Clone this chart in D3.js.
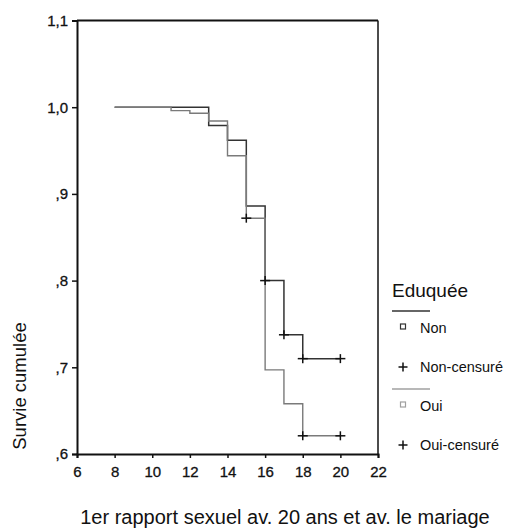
<!DOCTYPE html>
<html>
<head>
<meta charset="utf-8">
<script src="https://cdn.jsdelivr.net/npm/d3@7"></script>
<style>
	body { margin: 0; background: #fff; }
	svg text { font-family: "Liberation Sans", Arial, sans-serif; fill: #111; }
</style>
</head>
<body>
<div id="chart"></div>
<script>
// Kaplan-Meier steps
var nonTimes = [8, 13, 14, 15, 16, 17, 18, 20];
var nonSurv = [1.0, 0.979, 0.962, 0.886, 0.8, 0.7375, 0.71, 0.71];
var nonCensored = [16, 17, 18, 20];

var ouiTimes = [8, 11, 12, 13, 14, 15, 16, 17, 18, 20];
var ouiSurv = [1.0, 0.996, 0.993, 0.984, 0.944, 0.872, 0.697, 0.658, 0.621, 0.621];
var ouiCensored = [15, 18, 20];

var xTicks = [6, 8, 10, 12, 14, 16, 18, 20, 22];
var yTicks = [0.6, 0.7, 0.8, 0.9, 1.0, 1.1];
var yTickLabels = [",6", ",7", ",8", ",9", "1,0", "1,1"];

var legendTitle = "Eduquée";
var legendLabels = ["Non", "Non-censuré", "Oui", "Oui-censuré"];
var xTitle = "1er rapport sexuel av. 20 ans et av. le mariage";
var yTitle = "Survie cumulée";

var W = 510, H = 529;
var plot = { l: 77, t: 20.5, r: 378, b: 454 };

var svg = d3.select("#chart").append("svg")
	.attr("width", W)
	.attr("height", H);

var x = d3.scaleLinear().domain([6, 22]).range([plot.l, plot.r]);
var y = d3.scaleLinear().domain([0.6, 1.1]).range([plot.b, plot.t]);

// frame (top + right)
svg.append("line")
	.attr("x1", plot.l).attr("x2", plot.r)
	.attr("y1", plot.t).attr("y2", plot.t)
	.attr("stroke", "#111").attr("stroke-width", 2);

svg.append("line")
	.attr("x1", plot.r).attr("x2", plot.r)
	.attr("y1", plot.t).attr("y2", plot.b)
	.attr("stroke", "#111").attr("stroke-width", 1.5);

// axes
var yAxis = svg.append("g")
	.attr("transform", "translate(" + plot.l + ",0)")
	.call(d3.axisLeft(y).tickValues(yTicks).tickSize(5).tickPadding(4)
		.tickFormat(function(d, i) { return yTickLabels[i]; }));

var xAxis = svg.append("g")
	.attr("transform", "translate(0," + plot.b + ")")
	.call(d3.axisBottom(x).tickValues(xTicks).tickSize(4).tickPadding(8)
		.tickFormat(d3.format("d")));

[yAxis, xAxis].forEach(function(a) {
	a.select(".domain").attr("stroke", "#111").attr("stroke-width", 2);
	a.selectAll(".tick line").attr("stroke", "#111").attr("stroke-width", 1.5);
	a.selectAll(".tick text")
		.attr("font-size", 15)
		.attr("font-family", "'Liberation Sans', Arial, sans-serif")
		.attr("fill", "#111")
		.attr("stroke", "#111")
		.attr("stroke-width", 0.3);
});

// step curves
function stepPoints(times, surv) {
	return times.map(function(t, i) { return [t, surv[i]]; });
}

function survAt(times, surv, t) {
	var i = d3.bisectRight(times, t) - 1;
	return surv[Math.max(i, 0)];
}

var line = d3.line()
	.x(function(d) { return x(d[0]); })
	.y(function(d) { return y(d[1]); })
	.curve(d3.curveStepAfter);

var series = [
	{ name: "Non", times: nonTimes, surv: nonSurv, censored: nonCensored, color: "#333", width: 1.5 },
	{ name: "Oui", times: ouiTimes, surv: ouiSurv, censored: ouiCensored, color: "#7a7a7a", width: 1.4 }
];

series.forEach(function(s) {
	svg.append("path")
		.datum(stepPoints(s.times, s.surv))
		.attr("d", line)
		.attr("fill", "none")
		.attr("stroke", s.color)
		.attr("stroke-width", s.width);
});

// censor marks
function plus(g, cx, cy, hw, hh) {
	g.append("line").attr("x1", cx - hw).attr("x2", cx + hw).attr("y1", cy).attr("y2", cy);
	g.append("line").attr("x1", cx).attr("x2", cx).attr("y1", cy - hh).attr("y2", cy + hh);
}

var marks = svg.append("g").attr("stroke", "#111").attr("stroke-width", 1.5);

series.forEach(function(s) {
	s.censored.forEach(function(t) {
		plus(marks, x(t), y(survAt(s.times, s.surv, t)), 5, 4.5);
	});
});

// axis titles
svg.append("text")
	.attr("transform", "translate(26," + 386 + ") rotate(-90)")
	.attr("text-anchor", "middle")
	.attr("font-size", 18.5)
	.text(yTitle);

svg.append("text")
	.attr("x", 285)
	.attr("y", 524)
	.attr("text-anchor", "middle")
	.attr("font-size", 20)
	.text(xTitle);

// legend
var lg = svg.append("g").attr("transform", "translate(392,0)");

lg.append("text")
	.attr("x", 0).attr("y", 297)
	.attr("font-size", 19)
	.text(legendTitle);

var rows = [
	{ label: legendLabels[0], y: 333, kind: "square", color: "#333", line: 311 },
	{ label: legendLabels[1], y: 372, kind: "plus" },
	{ label: legendLabels[2], y: 411, kind: "square", color: "#a0a0a0", line: 389 },
	{ label: legendLabels[3], y: 450, kind: "plus" }
];

rows.forEach(function(r) {
	if (r.line) {
		lg.append("line")
			.attr("x1", 0).attr("x2", 38)
			.attr("y1", r.line).attr("y2", r.line)
			.attr("stroke", r.color).attr("stroke-width", 1.5);
	}

	if (r.kind == "square") {
		lg.append("rect")
			.attr("x", 8.5).attr("y", r.y - 9)
			.attr("width", 5).attr("height", 5)
			.attr("fill", "none")
			.attr("stroke", r.color).attr("stroke-width", 1.2);
	} else {
		var g = lg.append("g").attr("stroke", "#111").attr("stroke-width", 1.5);
		plus(g, 11, r.y - 5, 4.5, 4.5);
	}

	lg.append("text")
		.attr("x", 28).attr("y", r.y)
		.attr("font-size", 14.5)
		.text(r.label);
});
</script>
</body>
</html>
